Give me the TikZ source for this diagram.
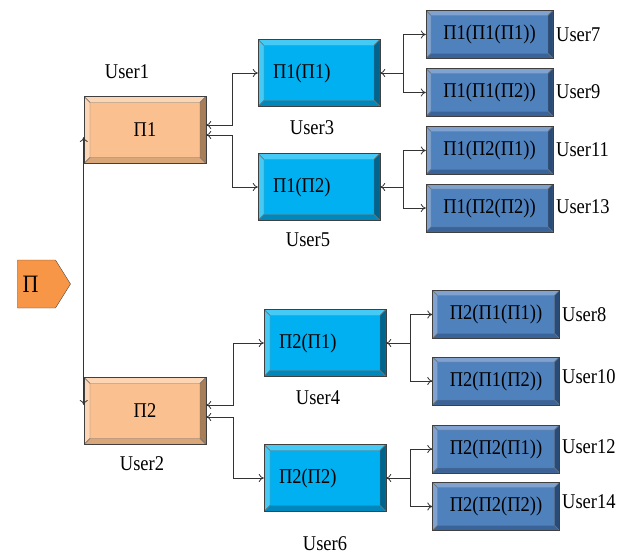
\documentclass[tikz,border=0pt]{standalone}
\usepackage{fontspec}
\usepackage{graphicx}
\setmainfont{Liberation Serif}
\usetikzlibrary{calc,shapes.symbols,arrows.meta}

\definecolor{rootorange}{HTML}{F79646}
\definecolor{peach}{HTML}{FAC090}
\definecolor{peachlight}{HTML}{FCD5B4}
\definecolor{peachdark}{HTML}{A87E58}
\definecolor{peachbottom}{HTML}{D9A67A}
\definecolor{sky}{HTML}{00B0F0}
\definecolor{skylight}{HTML}{45C9F5}
\definecolor{skydark}{HTML}{00658E}
\definecolor{skybottom}{HTML}{0088BC}
\definecolor{steel}{HTML}{4F81BD}
\definecolor{steellight}{HTML}{7FA2D0}
\definecolor{steeldark}{HTML}{284B78}
\definecolor{steelbottom}{HTML}{3A6399}

% narrow the text a little, as in the drawing
\newcommand{\squeeze}[1]{\scalebox{0.88}[1]{#1}}

% bevel faces: top, left, right, bottom, depth
\newcommand{\bevelpic}[5]{%
  \path (path picture bounding box.south west) coordinate (bl)
        (path picture bounding box.north east) coordinate (tr);
  \filldraw[fill=#1,draw=black!55,line width=0.4pt] (bl|-tr) -- (tr) -- ($(tr)+(-#5,-#5)$) -- ($(bl|-tr)+(#5,-#5)$) -- cycle;
  \filldraw[fill=#2,draw=black!55,line width=0.4pt] (bl) -- (bl|-tr) -- ($(bl|-tr)+(#5,-#5)$) -- ($(bl)+(#5,#5)$) -- cycle;
  \filldraw[fill=#3,draw=black!55,line width=0.4pt] (tr) -- (tr|-bl) -- ($(tr|-bl)+(-#5,#5)$) -- ($(tr)+(-#5,-#5)$) -- cycle;
  \filldraw[fill=#4,draw=black!55,line width=0.4pt] (bl) -- (tr|-bl) -- ($(tr|-bl)+(-#5,#5)$) -- ($(bl)+(#5,#5)$) -- cycle;
}

\tikzstyle{rootbox}=[signal,signal to=east,signal pointer angle=116,minimum width=53pt,minimum height=48pt,inner sep=0pt,fill=rootorange,draw=black!70,font=\fontsize{25}{28}\selectfont]
\tikzstyle{topbox}=[rectangle,draw=black!75,fill=peach,minimum width=122pt,minimum height=67pt,inner sep=0pt,path picture={\bevelpic{peachlight}{peachlight}{peachdark}{peachbottom}{6pt}}]
\tikzstyle{midbox}=[rectangle,draw=black!75,fill=sky,text width=92pt,inner xsep=15pt,inner ysep=0pt,align=left,minimum height=67pt,path picture={\bevelpic{skylight}{skylight}{skydark}{skybottom}{6pt}}]
\tikzstyle{leafbox}=[rectangle,draw=black!75,fill=steel,minimum width=127pt,minimum height=48pt,inner sep=0pt,path picture={\bevelpic{steellight}{steellight}{steeldark}{steelbottom}{5pt}}]
\tikzstyle{userlabel}=[inner sep=0pt]
\tikzstyle{edge}=[draw=black!80,line width=0.8pt,<->]

\begin{document}
\begin{tikzpicture}[x=1pt,y=-1pt,font=\fontsize{21}{24}\selectfont,>={To[length=5pt,width=8pt]}]
    \useasboundingbox (0,0) rectangle (619,554);

    \node[rootbox] (P) at (36.5,284) {\squeeze{Π}\hspace*{12pt}};

    \foreach \pos/\name/\txt in {{(145,130)/P1/{Π1}},{(145,411)/P2/{Π2}}}
        \node[topbox] (\name) at \pos {\squeeze{\txt}};

    \foreach \pos/\name/\txt in {{(319,73)/P11/{Π1(Π1)}},{(319,187)/P12/{Π1(Π2)}},
                                 {(325,343)/P21/{Π2(Π1)}},{(325,478)/P22/{Π2(Π2)}}}
        \node[midbox] (\name) at \pos {\squeeze{\txt}};

    \foreach \pos/\name/\txt in {{(489.5,34.5)/L111/{Π1(Π1(Π1))}},{(489.5,92.5)/L112/{Π1(Π1(Π2))}},
                                 {(489.5,150.5)/L121/{Π1(Π2(Π1))}},{(489.5,208)/L122/{Π1(Π2(Π2))}},
                                 {(496,314.5)/L211/{Π2(Π1(Π1))}},{(496,381)/L212/{Π2(Π1(Π2))}},
                                 {(496,449)/L221/{Π2(Π2(Π1))}},{(496,506.5)/L222/{Π2(Π2(Π2))}}}
        \node[leafbox] (\name) at \pos {\squeeze{\txt}};

    % user names
    \foreach \pos/\name/\txt in {{(127,72)/u1/User1},{(142,464)/u2/User2},{(312,128)/u3/User3},
                                 {(308,240)/u5/User5},{(318,398)/u4/User4},{(325,544)/u6/User6}}
        \node[userlabel] (\name) at \pos {\squeeze{\txt}};
    \foreach \pos/\name/\txt in {{(556,35)/u7/User7},{(556,92)/u9/User9},{(556,150)/u11/User11},
                                 {(556,207)/u13/User13},{(562,315)/u8/User8},{(562,377)/u10/User10},
                                 {(562,447)/u12/User12},{(562,502)/u14/User14}}
        \node[userlabel,anchor=west] (\name) at \pos {\squeeze{\txt}};

    % connectors
    \draw[edge] ([yshift=-7pt]P1.west) -- ([yshift=6pt]P2.west);
    \draw[edge] ([yshift=5pt]P1.east) -- ++(26,0) |- (P11.west);
    \draw[edge] ([yshift=-5pt]P1.east) -- ++(26,0) |- (P12.west);
    \draw[edge] ([yshift=6pt]P2.east) -- ++(27,0) |- (P21.west);
    \draw[edge] ([yshift=-6pt]P2.east) -- ++(27,0) |- (P22.west);

    \foreach \mid/\up/\down in {P11/L111/L112, P12/L121/L122}{
        \draw[edge] (\mid.east) -- ++(23,0) |- (\up.west);
        \draw[edge,->] ([xshift=23pt]\mid.east) |- (\down.west);
    }
    \foreach \mid/\up/\down in {P21/L211/L212, P22/L221/L222}{
        \draw[edge] (\mid.east) -- ++(24,0) |- (\up.west);
        \draw[edge,->] ([xshift=24pt]\mid.east) |- (\down.west);
    }
\end{tikzpicture}
\end{document}
